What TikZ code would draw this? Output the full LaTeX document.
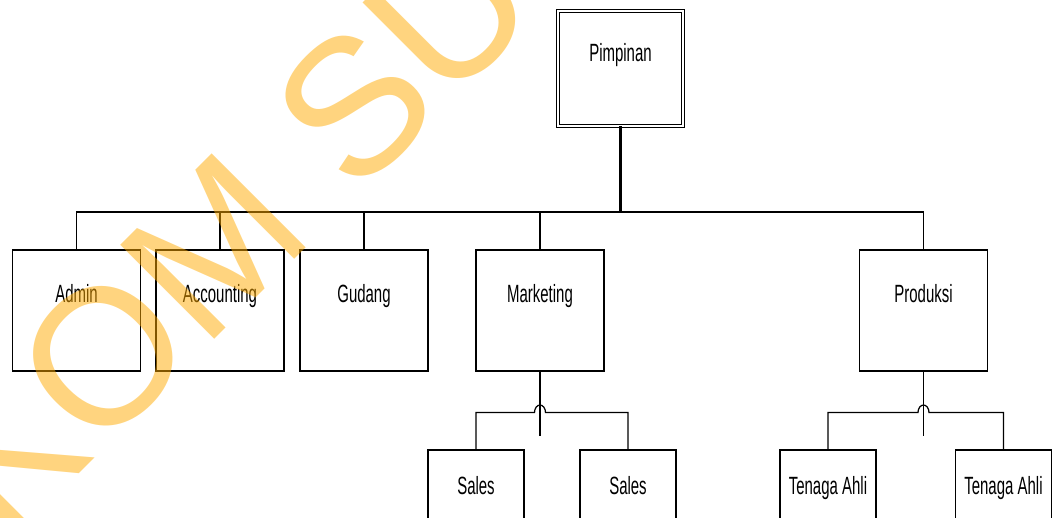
\documentclass[tikz,border=0pt]{standalone}
\usepackage{fontspec}
\setmainfont{Liberation Sans}
\newfontfamily\narrowfont[FakeStretch=0.6]{Liberation Sans}
\usetikzlibrary{calc}
\definecolor{wmcol}{RGB}{255,170,0}
\newcommand{\nsp}{\hspace{0.17em}}

\tikzset{
  unit/.style={draw, line width=0.7pt, inner sep=0pt, align=center,
    font=\narrowfont\fontsize{14.2}{17}\selectfont,
    text width=2.56cm, text height=1.04cm, text depth=1.38cm},
  subunit/.style={unit, text width=1.92cm, text height=0.88cm, text depth=1.54cm},
  headunit/.style={unit, line width=0.5pt, double, double distance=0.044cm,
    text width=2.5cm, text height=1.0cm, text depth=1.3cm},
  link/.style={line width=0.7pt},
  wmtext/.style={inner sep=0pt, text=wmcol, text opacity=0.5,
    font=\fontsize{110}{130}\selectfont}
}

\begin{document}
\begin{tikzpicture}
  \useasboundingbox (0,0) rectangle (21.06,-10.36);
  \clip (0,0) rectangle (21.06,-10.36);

  \node[headunit] (vpim) at (12.41,-1.37) {Pimpinan};

  \node[unit] (vadm) at (1.53,-6.21) {Admin};
  \node[unit] (vacc) at (4.40,-6.21) {Accounting};
  \node[unit] (vgud) at (7.28,-6.21) {Gudang};
  \node[unit] (vmkt) at (10.80,-6.21) {Marketing};
  \node[unit] (vprd) at (18.47,-6.21) {Produksi};

  \node[subunit] (vsa) at (9.52,-10.21) {Sales};
  \node[subunit] (vsb) at (12.56,-10.21) {Sales};
  \node[subunit] (vta) at (16.56,-10.21) {Tenaga\nsp Ahli};
  \node[subunit] (vtb) at (20.07,-10.21) {Tenaga\nsp Ahli};

  \coordinate (bus) at (0,-4.24);
  \coordinate (msub) at (0,-8.25);
  \coordinate (vmkt-end) at (10.80,-8.72);
  \coordinate (vprd-end) at (18.47,-8.72);

  \draw[link] (vadm.north) |- (vprd.north |- bus) -- (vprd.north);
  \draw[link, line width=1.2pt] (vpim.south) |- (vacc.north |- bus);
  \draw[link] (vacc.north) -- (vacc.north |- bus);
  \draw[link] (vgud.north) -- (vgud.north |- bus);
  \draw[link] (vmkt.north) -- (vmkt.north |- bus);

  \draw[link] (vmkt.south) -- (vmkt-end);
  \draw[link] (vsa.north) |- ($(vmkt.south |- msub)+(-0.11,0)$)
    arc[start angle=180, end angle=0, x radius=0.11, y radius=0.15]
    -- (vsb.north |- msub) -- (vsb.north);

  \draw[link] (vprd.south) -- (vprd-end);
  \draw[link] (vta.north) |- ($(vprd.south |- msub)+(-0.11,0)$)
    arc[start angle=180, end angle=0, x radius=0.11, y radius=0.15]
    -- (vtb.north |- msub) -- (vtb.north);

  % watermark
  \node[wmtext, rotate=45, anchor=base west] (wm) at (-4.14,-15.21) {STIKOM SURABAYA};
\end{tikzpicture}
\end{document}
